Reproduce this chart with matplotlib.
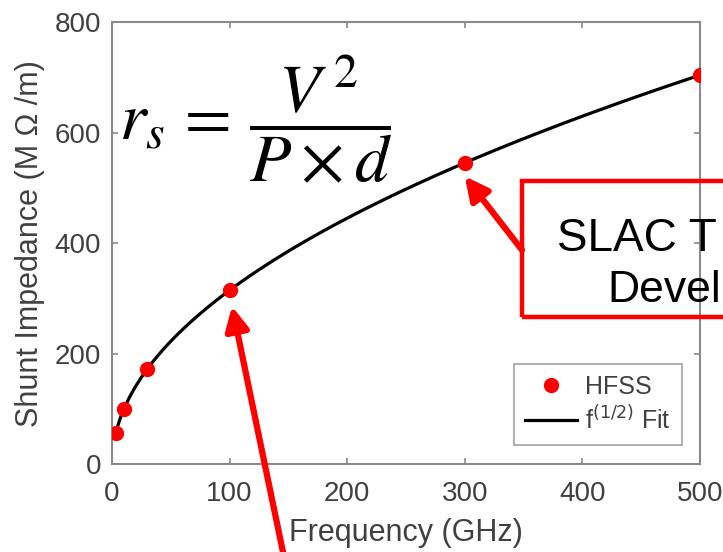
import numpy as np
import matplotlib
matplotlib.use("Agg")
import matplotlib.pyplot as plt
from matplotlib.patches import Rectangle

# HFSS simulated shunt impedance vs frequency
freq_ghz = [3, 10, 30, 100, 300, 500]
shunt_imp = [56, 100, 172, 315, 545, 704]

x_ticks = [0, 100, 200, 300, 400, 500]
y_ticks = [0, 200, 400, 600, 800]

plt.rcParams['font.family'] = ['Liberation Sans', 'DejaVu Sans']
grey_txt = '#404040'
grey_ax = '#8a8a8a'

fig = plt.figure(figsize=(7.23, 5.52), dpi=100)
ax = fig.add_axes([0.155, 0.159, 0.813, 0.801])

# sqrt fit r = a*sqrt(f) through the HFSS points
f = np.array(freq_ghz, dtype=float)
r = np.array(shunt_imp, dtype=float)
a = np.sum(r * np.sqrt(f)) / np.sum(f)
f_fit = np.linspace(f.min(), f.max(), 300)

ax.plot(freq_ghz, shunt_imp, 'o', color='red', markersize=10, label='HFSS', zorder=3)
ax.plot(f_fit, a * np.sqrt(f_fit), color='black', lw=2.3, label='f$^{(1/2)}$ Fit', zorder=2)

ax.set_xlim(0, 500)
ax.set_ylim(0, 800)
ax.set_xticks(x_ticks)
ax.set_yticks(y_ticks)
ax.tick_params(direction='in', top=True, right=True, length=4, width=1.2,
               color=grey_ax, labelsize=20, labelcolor=grey_txt, pad=8)
ax.tick_params(axis='x', pad=12)
for s in ax.spines.values():
    s.set_color(grey_ax)
    s.set_linewidth(1.5)
ax.set_xlabel('Frequency (GHz)', fontsize=22, color=grey_txt, labelpad=8)
ax.set_ylabel('Shunt Impedance (M Ω /m)', fontsize=22, color=grey_txt, labelpad=7)

leg = ax.legend(loc='lower right', bbox_to_anchor=(0.969, 0.043), borderaxespad=0,
                fontsize=18, frameon=True, fancybox=False, edgecolor=grey_ax,
                handlelength=2.1, handletextpad=0.3, borderpad=0.45, labelspacing=0.25)
for t in leg.get_texts():
    t.set_color(grey_txt)
leg.get_frame().set_linewidth(1.2)

# formula
fig.text(256, 432, r'$r_s \,=\, \dfrac{V^{\,2}}{P \times d}$', transform=None,
         fontsize=49, math_fontfamily='stix', ha='center', va='center')

# red callout box (cut by the right edge)
fig.add_artist(Rectangle((522, 235), 260, 136, transform=None, fill=False,
                         edgecolor='red', lw=3.2, clip_on=False))
fig.text(557, 313, 'SLAC T', transform=None, fontsize=33, va='center', ha='left')
fig.text(607, 262, 'Devel', transform=None, fontsize=32, va='center', ha='left')

# arrows
arrow = dict(arrowstyle='-|>,head_length=1.4,head_width=0.7', color='red', lw=4.5,
             shrinkA=0, shrinkB=0)
ax.annotate('', xy=(102, 286), xycoords='data', xytext=(284, -5),
            textcoords='figure pixels', arrowprops=arrow, annotation_clip=False)
ax.annotate('', xy=(300, 521), xycoords='data', xytext=(522, 302),
            textcoords='figure pixels', arrowprops=arrow, annotation_clip=False)

fig.savefig('out.png', dpi=100)
